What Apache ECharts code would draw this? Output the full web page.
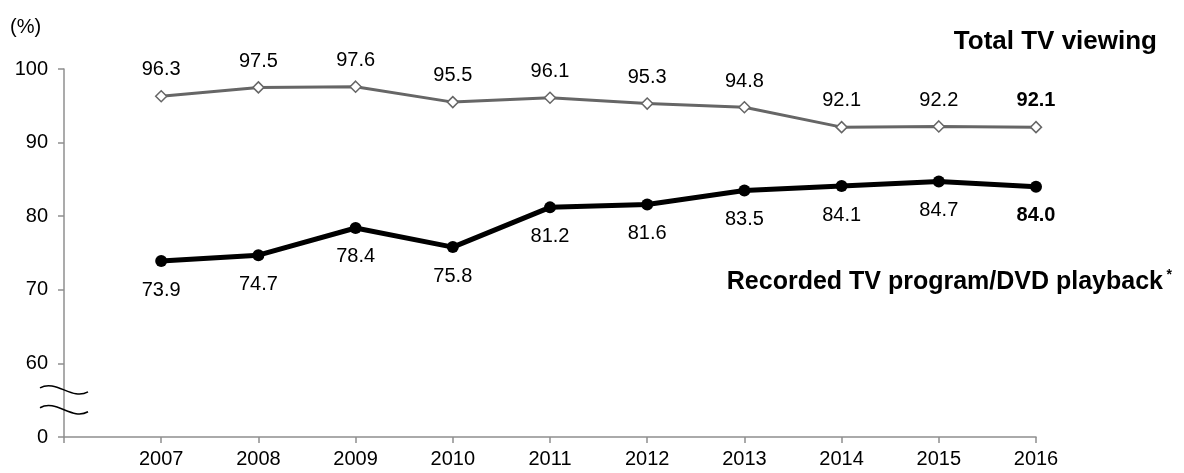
<!DOCTYPE html>
<html>
<head>
<meta charset="utf-8">
<script src="https://cdn.jsdelivr.net/npm/echarts@6/dist/echarts.min.js"></script>
<style>
  html, body { margin: 0; padding: 0; background: #fff; }
  #chart { width: 1184px; height: 473px; }
</style>
</head>
<body>
<div id="chart"></div>
<script>
// Survey years and viewing rates (%)
const years = [2007, 2008, 2009, 2010, 2011, 2012, 2013, 2014, 2015, 2016];
const totalTV = [96.3, 97.5, 97.6, 95.5, 96.1, 95.3, 94.8, 92.1, 92.2, 92.1];
const recorded = [73.9, 74.7, 78.4, 75.8, 81.2, 81.6, 83.5, 84.1, 84.7, 84.0];
const yTicks = [50, 60, 70, 80, 90, 100];      // the 50 line is drawn as "0" below the axis break
const seriesNames = ['Total TV viewing', 'Recorded TV program/DVD playback'];

const FONT = '"Liberation Sans", Arial, sans-serif';

function pairs(vals, lastBold) {
  return vals.map((v, i) => {
    const item = { value: [years[i], v] };
    if (i === vals.length - 1 && lastBold) item.label = { fontWeight: 'bold' };
    return item;
  });
}

const chart = echarts.init(document.getElementById('chart'), null, { renderer: 'canvas' });

chart.setOption({
  animation: false,
  backgroundColor: '#fff',
  grid: { left: 64, right: 148, top: 69, bottom: 36, containLabel: false },
  xAxis: {
    type: 'value',
    min: years[0] - 1,
    max: years[years.length - 1],
    interval: 1,
    splitLine: { show: false },
    axisLine: { lineStyle: { color: '#8f8f8f', width: 1.5 } },
    axisTick: { show: true, length: 6, lineStyle: { color: '#8f8f8f', width: 1.5 } },
    axisLabel: {
      margin: 12, fontSize: 20, color: '#000', fontFamily: FONT,
      formatter: v => (years.indexOf(v) >= 0 ? String(v) : '')
    }
  },
  yAxis: {
    type: 'value',
    min: yTicks[0],
    max: yTicks[yTicks.length - 1],
    interval: 10,
    splitLine: { show: false },
    axisLine: { show: true, lineStyle: { color: '#8f8f8f', width: 1.5 } },
    axisTick: { show: true, length: 6, lineStyle: { color: '#8f8f8f', width: 1.5 } },
    axisLabel: {
      margin: 16, fontSize: 20, color: '#000', fontFamily: FONT,
      formatter: v => (v === yTicks[0] ? '0' : String(v))
    }
  },
  series: [
    {
      name: seriesNames[0],
      type: 'line',
      data: pairs(totalTV, true),
      symbol: 'diamond',
      symbolSize: 11,
      lineStyle: { color: '#666666', width: 3 },
      itemStyle: { color: '#fff', borderColor: '#666666', borderWidth: 1.5 },
      label: {
        show: true, position: 'top', distance: 10,
        fontSize: 20, color: '#000', fontFamily: FONT,
        formatter: p => p.value[1].toFixed(1)
      },
      z: 3
    },
    {
      name: seriesNames[1],
      type: 'line',
      data: pairs(recorded, true),
      symbol: 'circle',
      symbolSize: 12,
      lineStyle: { color: '#000', width: 5 },
      itemStyle: { color: '#000', borderColor: '#000', borderWidth: 0 },
      label: {
        show: true, position: 'bottom', distance: 13,
        fontSize: 20, color: '#000', fontFamily: FONT,
        formatter: p => p.value[1].toFixed(1)
      },
      z: 4
    }
  ]
});

// Axis break marks, series titles and the unit label
function breakWave(xAxisPx, yPx) {
  const x0 = xAxisPx - 24, x1 = xAxisPx + 24;
  return {
    type: 'bezierCurve',
    shape: {
      x1: x0, y1: yPx - 2,
      cpx1: x0 + 16, cpy1: yPx - 11,
      cpx2: x1 - 16, cpy2: yPx + 11,
      x2: x1, y2: yPx + 2
    },
    style: { stroke: '#000', lineWidth: 1.5, fill: null },
    z: 10
  };
}

const axisX = chart.convertToPixel({ gridIndex: 0 }, [years[0] - 1, 0])[0];
const yA = chart.convertToPixel({ yAxisIndex: 0 }, 56.4);
const yB = chart.convertToPixel({ yAxisIndex: 0 }, 53.7);

chart.setOption({
  graphic: [
    breakWave(axisX, yA),
    breakWave(axisX, yB),
    {
      type: 'text', left: 10, top: 17,
      style: { text: '(%)', fontSize: 20, fill: '#000', fontFamily: FONT }
    },
    {
      type: 'text', right: 27, top: 29,
      style: { text: seriesNames[0], fontSize: 26, fontWeight: 'bold', fill: '#000', fontFamily: FONT }
    },
    {
      type: 'text', right: 21, top: 270,
      style: { text: seriesNames[1], fontSize: 25, fontWeight: 'bold', fill: '#000', fontFamily: FONT }
    },
    {
      type: 'text', right: 12, top: 268,
      style: { text: '*', fontSize: 14, fontWeight: 'bold', fill: '#000', fontFamily: FONT }
    }
  ]
});
</script>
</body>
</html>
